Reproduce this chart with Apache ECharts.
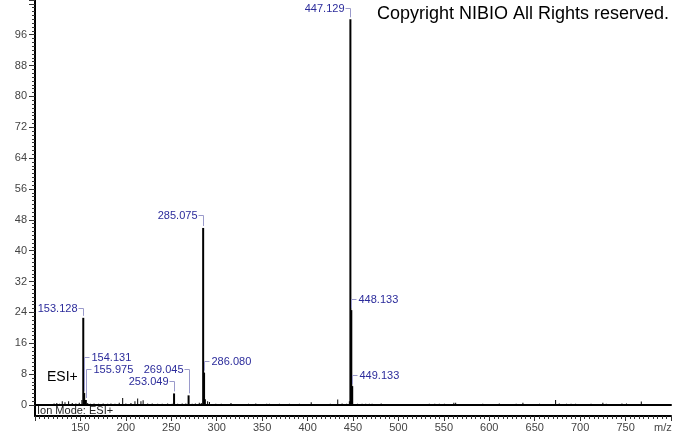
<!DOCTYPE html>
<html>
<head>
<meta charset="utf-8">
<script src="https://cdn.jsdelivr.net/npm/echarts@6/dist/echarts.min.js"></script>
<style>html,body{margin:0;padding:0;background:#fff}#c{width:674px;height:434px}</style>
</head>
<body>
<div id="c"></div>
<script>
// ---- data ----
const labelText = ['153.128','154.131','155.975','253.049','269.045','285.075','286.080','447.129','448.133','449.133'];
const labelMz   = [153.128, 154.131, 155.975, 253.049, 269.045, 285.075, 286.080, 447.129, 448.133, 449.133];
const labelInt  = [22.6, 3.1, 1.3, 3.0, 2.5, 45.9, 8.4, 100, 24.6, 4.9];

const noiseMz  = [121, 124, 127, 130, 133, 137, 141, 145, 148.7, 151.6, 158, 161, 165, 170, 175, 180, 183.6, 188, 192.7, 196.5, 200, 205.6, 210, 213, 216.6, 219, 224, 229, 235, 240, 246, 251, 257, 262, 266, 273, 276.5, 280.8, 283, 287.5, 290, 292, 299, 305, 315.7, 325, 335, 343, 350, 355, 358, 369, 380, 391, 404, 415, 425, 433.2, 438, 443, 446, 455, 460, 464, 468, 471, 481, 486, 500, 520, 534, 540, 545, 550.6, 561, 563, 575, 592.8, 611, 620, 629.6, 637, 655.3, 673, 677, 685, 690, 695, 700, 712, 725, 728.7, 746, 751, 767.3, 780];
const noiseInt = [0.4, 0.5, 0.3, 1.0, 0.7, 1.0, 0.5, 0.4, 0.6, 1.3, 0.5, 0.3, 0.4, 0.3, 0.4, 0.3, 0.4, 0.3, 0.6, 1.8, 0.4, 0.5, 1.0, 1.7, 1.0, 1.2, 0.4, 0.4, 0.3, 0.3, 0.4, 0.3, 0.3, 0.4, 0.4, 0.3, 0.4, 0.6, 0.5, 1.5, 1.0, 0.8, 0.3, 0.3, 0.5, 0.2, 0.3, 0.4, 0.2, 0.3, 0.3, 0.3, 0.3, 0.3, 0.7, 0.2, 0.3, 1.4, 0.4, 0.3, 1.0, 0.3, 0.3, 0.3, 0.3, 0.3, 0.4, 0.2, 0.2, 0.2, 0.3, 0.3, 0.3, 0.3, 0.6, 0.6, 0.2, 0.3, 0.4, 0.2, 0.3, 0.6, 0.3, 1.3, 0.4, 0.3, 0.3, 0.3, 0.2, 0.3, 0.6, 0.3, 0.4, 0.4, 0.9, 0.2];

const xTickValues = [150, 200, 250, 300, 350, 400, 450, 500, 550, 600, 650, 700, 750];
const yTickValues = [0, 8, 16, 24, 32, 40, 48, 56, 64, 72, 80, 88, 96];

// ---- label layout (styling only) ----
const labelSide = ['L','R','R','L','L','L','R','L','R','R'];
const labelRise = [10, 36, 31, 12, 26, 13, 12, 11, 11, 11];

const stickData = noiseMz.map((m, i) => [m, noiseInt[i], 1]).concat(labelMz.map((m, i) => [m, labelInt[i], 2]));
const labelData = labelMz.map((m, i) => [m, labelInt[i], i]);

const chart = echarts.init(document.getElementById('c'), null, {renderer: 'canvas'});
const LBL_COLOR = '#2b2b9b';
const BRK_COLOR = '#9a9acb';

chart.setOption({
  animation: false,
  backgroundColor: '#fff',
  grid: [
    {left: 35, right: 3, top: 0, height: 405},
    {left: 35, right: 3, top: 405, height: 11}
  ],
  xAxis: [
    {type: 'value', gridIndex: 0, min: 100, max: 800,
     axisLine: {show: true, onZero: true, lineStyle: {color: '#000', width: 2}},
     axisTick: {show: false}, axisLabel: {show: false}, splitLine: {show: false}},
    {type: 'value', gridIndex: 1, min: 100, max: 800, interval: 50,
     axisLine: {show: true, lineStyle: {color: '#000', width: 2}},
     axisTick: {show: true, length: 5, lineStyle: {color: '#333', width: 1}},
     minorTick: {show: true, splitNumber: 10, length: 3, lineStyle: {color: '#333', width: 1}},
     axisLabel: {show: true, color: '#444', fontSize: 11, fontFamily: 'Liberation Sans, Arial', margin: 6,
       formatter: v => xTickValues.indexOf(v) >= 0 ? String(v) : ''},
     splitLine: {show: false}}
  ],
  yAxis: [
    {type: 'value', gridIndex: 0, min: 0, max: 105, interval: 8,
     axisLine: {show: true, lineStyle: {color: '#000', width: 2}},
     axisTick: {show: true, length: 6, lineStyle: {color: '#333', width: 1}},
     minorTick: {show: true, splitNumber: 8, length: 3, lineStyle: {color: '#333', width: 1}},
     axisLabel: {show: true, color: '#444', fontSize: 11, fontFamily: 'Liberation Sans, Arial', margin: 8,
       formatter: v => yTickValues.indexOf(v) >= 0 ? String(v) : ''},
     splitLine: {show: false}},
    {type: 'value', gridIndex: 1, min: 0, max: 1,
     axisLine: {show: true, lineStyle: {color: '#000', width: 2}},
     axisTick: {show: false}, axisLabel: {show: false}, splitLine: {show: false}}
  ],
  series: [
    {
      type: 'custom', xAxisIndex: 0, yAxisIndex: 0, data: stickData, z: 3,
      renderItem: function (params, api) {
        const top = api.coord([api.value(0), api.value(1)]);
        const base = api.coord([api.value(0), 0]);
        const w = api.value(2);
        return {type: 'rect', shape: {x: top[0] - w / 2, y: top[1], width: w, height: base[1] - top[1]},
          style: {fill: '#000'}};
      }
    },
    {
      type: 'custom', xAxisIndex: 0, yAxisIndex: 0, data: labelData, z: 4,
      renderItem: function (params, api) {
        const i = api.value(2);
        const p = api.coord([api.value(0), api.value(1)]);
        const px = Math.round(p[0]) + 0.5;
        const ty = Math.round(p[1] - labelRise[i]) + 0.5;
        const bottom = p[1] - 2;
        const left = labelSide[i] === 'L';
        const hx = left ? px - 5 : px + 5;
        return {type: 'group', children: [
          {type: 'polyline', shape: {points: [[hx, ty], [px, ty], [px, bottom]]},
           style: {stroke: BRK_COLOR, lineWidth: 1, fill: null}},
          {type: 'text', x: left ? px - 6 : px + 7, y: ty,
           style: {text: labelText[i], fill: LBL_COLOR, fontSize: 11, fontFamily: 'Liberation Sans, Arial',
             align: left ? 'right' : 'left', verticalAlign: 'middle'}}
        ]};
      }
    }
  ],
  graphic: [
    {type: 'text', left: 377, top: 5, z: 10,
     style: {text: 'Copyright NIBIO All Rights reserved.', fill: '#000', fontSize: 18, fontFamily: 'Liberation Sans, Arial'}},
    {type: 'text', left: 47, top: 370, z: 10,
     style: {text: 'ESI+', fill: '#000', fontSize: 14, fontFamily: 'Liberation Sans, Arial'}},
    {type: 'text', left: 37, top: 405, z: 10,
     style: {text: 'Ion Mode: ESI+', fill: '#222', fontSize: 11, fontFamily: 'Liberation Sans, Arial'}},
    {type: 'text', left: 654, top: 422, z: 10,
     style: {text: 'm/z', fill: '#444', fontSize: 11, fontFamily: 'Liberation Sans, Arial'}}
  ]
});
</script>
</body>
</html>
